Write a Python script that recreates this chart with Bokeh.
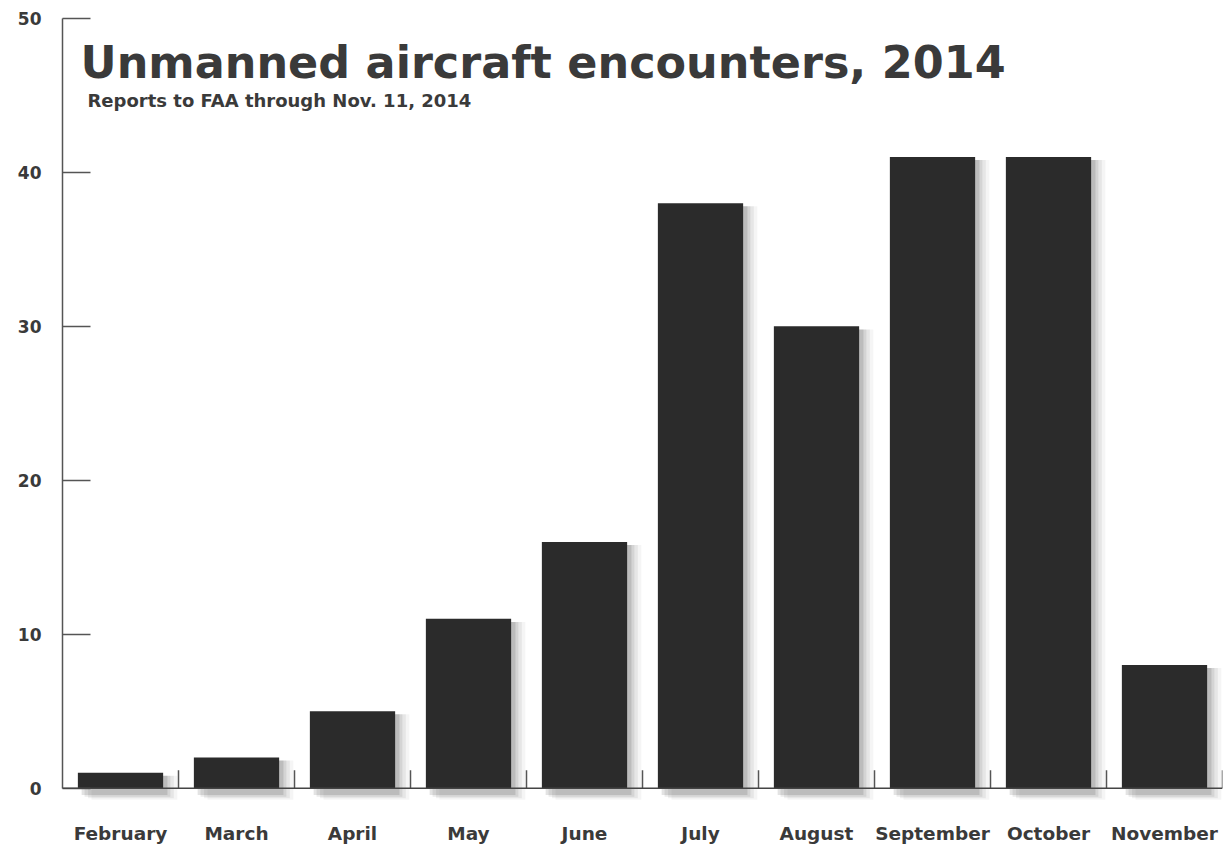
from bokeh.plotting import figure
from bokeh.models import Range1d, FixedTicker, Span, Label, ColumnDataSource
from bokeh.embed import file_html
from bokeh.resources import INLINE

months = ["February", "March", "April", "May", "June", "July",
          "August", "September", "October", "November"]
counts = [1, 2, 5, 11, 16, 38, 30, 41, 41, 8]
y_ticks = [0, 10, 20, 30, 40, 50]
title_text = "Unmanned aircraft encounters, 2014"
subtitle_text = "Reports to FAA through Nov. 11, 2014"

FONT = "DejaVu Sans"
BAR = "#2b2b2b"
TXT = "#3a3a3a"

n = len(months)
xc = [i + 0.5 for i in range(n)]

p = figure(width=1228, height=847, output_backend="svg", toolbar_location=None,
           x_range=Range1d(0, n), y_range=Range1d(-0.8, 50),
           min_border_left=62, min_border_right=6, min_border_top=18,
           min_border_bottom=47)
p.outline_line_color = None
p.background_fill_color = "white"
p.border_fill_color = "white"
p.xgrid.visible = False
p.ygrid.visible = False

# soft shadows
for k, (dx, a) in enumerate([(0.12, 0.04), (0.09, 0.06), (0.06, 0.08), (0.035, 0.11)]):
    src = ColumnDataSource(dict(x=[v + dx for v in xc], top=[c - 0.2 for c in counts]))
    p.vbar(x="x", top="top", bottom=-0.75 + k * 0.1, width=0.74, source=src,
           fill_color="#000000", fill_alpha=a, line_color=None)

p.vbar(x=xc, top=counts, bottom=0, width=0.735, fill_color=BAR, line_color=None)

# baseline
p.add_layout(Span(location=0, dimension="width", line_color="#444444", line_width=1.5))

# between-category ticks
p.segment(x0=list(range(1, n + 1)), x1=list(range(1, n + 1)), y0=[0] * n, y1=[1.17] * n,
          line_color="#555555", line_width=1.5)

# y axis
ya = p.yaxis[0]
ya.ticker = FixedTicker(ticks=y_ticks)
ya.bounds = (0, 50)
ya.axis_line_color = "#555555"
ya.axis_line_width = 1.5
ya.major_tick_in = 28
ya.major_tick_out = 0
ya.major_tick_line_color = "#555555"
ya.major_tick_line_width = 1.5
ya.minor_tick_line_color = None
ya.major_label_standoff = 21
ya.major_label_text_font = FONT
ya.major_label_text_font_style = "bold"
ya.major_label_text_font_size = "17px"
ya.major_label_text_color = TXT

# x axis
xa = p.xaxis[0]
xa.ticker = FixedTicker(ticks=xc)
xa.major_label_overrides = {v: m for v, m in zip(xc, months)}
xa.axis_line_color = None
xa.major_tick_line_color = None
xa.minor_tick_line_color = None
xa.major_tick_out = 0
xa.major_tick_in = 0
xa.major_label_standoff = 22
xa.major_label_text_font = FONT
xa.major_label_text_font_style = "bold"
xa.major_label_text_font_size = "18.5px"
xa.major_label_text_color = TXT

# titles
p.add_layout(Label(x=18, y=738, x_units="screen", y_units="screen", text=title_text,
                   text_font=FONT, text_font_style="bold", text_font_size="44.5px",
                   text_color=TXT, text_baseline="alphabetic"))
p.add_layout(Label(x=25, y=700, x_units="screen", y_units="screen", text=subtitle_text,
                   text_font=FONT, text_font_style="bold", text_font_size="18px",
                   text_color=TXT, text_baseline="alphabetic"))

open("out.html", "w").write(file_html(p, INLINE))
